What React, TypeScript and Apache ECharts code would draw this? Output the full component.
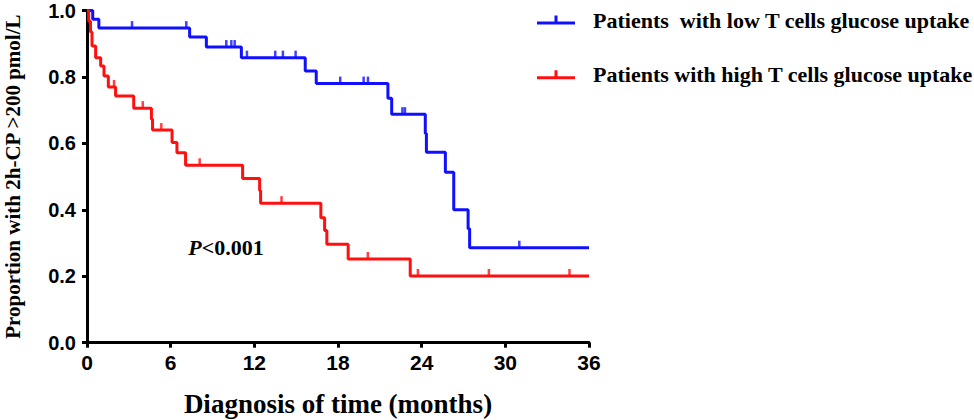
import React, { useEffect, useRef } from "react";
import * as echarts from "echarts";

// Kaplan-Meier steps: [time (months), proportion after event]
const lowSteps: [number, number][] = [
  [0, 1.0], [0.41, 0.974], [0.85, 0.947], [7.36, 0.92], [8.56, 0.89], [11.07, 0.858],
  [15.65, 0.818], [16.44, 0.78], [21.58, 0.736], [21.85, 0.688], [24.26, 0.63],
  [24.34, 0.573], [25.7, 0.513], [26.3, 0.4], [27.33, 0.343], [27.44, 0.286], [36, 0.286],
];
const lowCensor: [number, number][] = [
  [3.23, 0.947], [7.12, 0.947], [9.99, 0.89], [10.35, 0.89], [10.59, 0.89],
  [11.47, 0.858], [13.5, 0.858], [14.05, 0.858], [14.96, 0.858],
  [18.16, 0.78], [19.84, 0.78], [20.15, 0.78], [22.62, 0.688], [22.8, 0.688], [31.0, 0.286],
];
const highSteps: [number, number][] = [
  [0, 1.0], [0.12, 0.968], [0.25, 0.935], [0.36, 0.893], [0.62, 0.858], [0.98, 0.833],
  [1.22, 0.803], [1.53, 0.77], [2.05, 0.743], [3.35, 0.706], [4.62, 0.673], [4.7, 0.64],
  [6.1, 0.603], [6.45, 0.572], [7.07, 0.534], [11.16, 0.494], [12.38, 0.458], [12.45, 0.42],
  [16.77, 0.376], [17.04, 0.338], [17.2, 0.296], [18.73, 0.252], [23.18, 0.201], [36, 0.201],
];
const highCensor: [number, number][] = [
  [1.94, 0.77], [4.0, 0.706], [5.33, 0.64], [8.08, 0.534], [13.95, 0.42],
  [20.14, 0.252], [23.73, 0.201], [28.82, 0.201], [34.6, 0.201],
];

const lowName = "Patients  with low T cells glucose uptake";
const highName = "Patients with high T cells glucose uptake";
const xTitle = "Diagnosis of time (months)";
const yTitle = "Proportion with 2h-CP >200 pmol/L";
const pText = "<0.001";

const BLUE = "#1010ff";
const RED = "#ff1010";
const legendIcon = "path://M0,6H38V9H0Z M17.5,0H20.5V6H17.5Z";

export default function App() {
  const ref = useRef<HTMLDivElement>(null);
  useEffect(() => {
    if (!ref.current) return;
    const chart = echarts.init(ref.current, null, { renderer: "svg" });
    const axisFont = { fontFamily: "Liberation Sans", fontWeight: "bold" as const, fontSize: 21, lineHeight: 18, color: "#000" };
    const serifBold = { fontFamily: "Liberation Serif", fontWeight: "bold" as const, color: "#000" };
    chart.setOption({
      animation: false,
      grid: { left: 87, right: 385, top: 10.5, bottom: 77.3, containLabel: false, outerBoundsMode: "none" },
      legend: {
        orient: "vertical",
        left: 537,
        top: 8,
        padding: 0,
        itemWidth: 38,
        itemHeight: 9,
        itemGap: 30.7,
        data: [
          { name: lowName, icon: legendIcon },
          { name: highName, icon: legendIcon },
        ],
        textStyle: { ...serifBold, fontSize: 22, lineHeight: 24, padding: [0, 0, 0, 13] },
        selectedMode: false,
      },
      xAxis: {
        type: "value",
        min: 0,
        max: 36,
        interval: 6,
        name: xTitle,
        nameLocation: "middle",
        nameGap: 48,
        nameTextStyle: { ...serifBold, fontSize: 27 },
        axisLine: { onZero: false, lineStyle: { color: "#000", width: 3 } },
        axisTick: { length: 5, lineStyle: { color: "#000", width: 3 } },
        splitLine: { show: false },
        axisLabel: { ...axisFont, margin: 11 },
      },
      yAxis: {
        type: "value",
        min: 0,
        max: 1,
        interval: 0.2,
        name: yTitle,
        nameLocation: "middle",
        nameRotate: 90,
        nameGap: 64,
        nameTextStyle: { ...serifBold, fontSize: 21, lineHeight: 21 },
        axisLine: { show: true, lineStyle: { color: "#000", width: 3 } },
        axisTick: { show: true, length: 5, lineStyle: { color: "#000", width: 3 } },
        splitLine: { show: false },
        axisLabel: { ...axisFont, fontSize: 20, margin: 11, formatter: (v: number) => v.toFixed(1) },
      },
      graphic: [
        {
          type: "text",
          x: 226,
          y: 247,
          style: {
            text: "{i|P}" + pText,
            rich: { i: { fontStyle: "italic", fontFamily: "Liberation Serif", fontWeight: "bold", fontSize: 22, fill: "#000" } },
            font: "bold 22px 'Liberation Serif'",
            fill: "#000",
            align: "center",
            verticalAlign: "middle",
          },
        },
      ],
      series: [
        {
          name: lowName,
          type: "line",
          step: "end",
          data: lowSteps,
          showSymbol: false,
          clip: false,
          color: BLUE,
          lineStyle: { width: 3, color: BLUE },
          z: 3,
        },
        {
          name: highName,
          type: "line",
          step: "end",
          data: highSteps,
          showSymbol: false,
          clip: false,
          color: RED,
          lineStyle: { width: 3, color: RED },
          z: 3,
        },
        {
          name: "low-censor",
          type: "scatter",
          data: lowCensor,
          symbol: "rect",
          symbolSize: [2.5, 7],
          symbolOffset: [0, -3.5],
          itemStyle: { color: BLUE },
          z: 4,
        },
        {
          name: "high-censor",
          type: "scatter",
          data: highCensor,
          symbol: "rect",
          symbolSize: [2.5, 7],
          symbolOffset: [0, -3.5],
          itemStyle: { color: RED },
          z: 4,
        },
      ],
    });
    return () => chart.dispose();
  }, []);
  return <div ref={ref} style={{ position: "absolute", left: 0, top: 0, width: 974, height: 420 }} />;
}
